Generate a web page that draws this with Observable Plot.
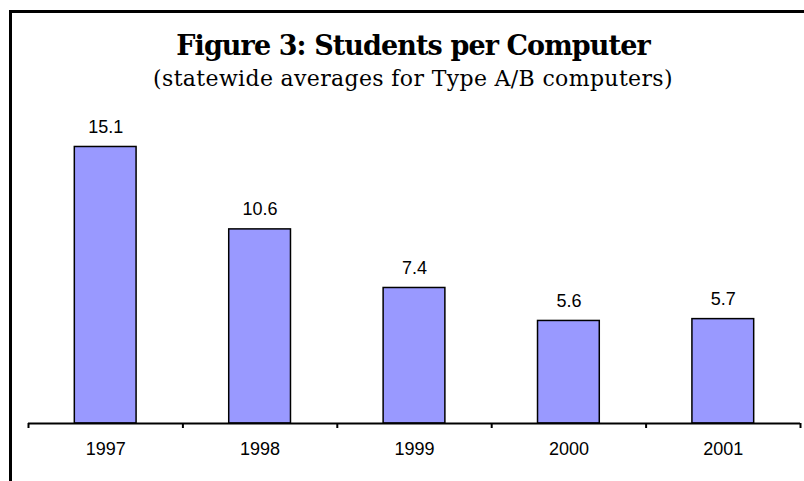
<!DOCTYPE html>
<html>
<head>
<meta charset="utf-8">
<script src="https://cdn.jsdelivr.net/npm/d3@7"></script>
<script src="https://cdn.jsdelivr.net/npm/@observablehq/plot@0.6"></script>
<style>
  html, body { margin: 0; padding: 0; background: #fff; }
  #chart { position: relative; width: 804px; height: 481px; overflow: hidden; }
  #frame {
    position: absolute; left: 9px; top: 10px; width: 820px; height: 500px;
    border-top: 3px solid #000; border-left: 3px solid #000; pointer-events: none;
  }
  #head {
    box-sizing: border-box; width: 804px; height: 100px;
    padding: 30px 0 0 22px; text-align: center; color: #000;
  }
  #title {
    font-family: "DejaVu Serif", serif; font-weight: bold;
    font-size: 27px; line-height: 31px; letter-spacing: -0.9px;
  }
  #subtitle {
    font-family: "DejaVu Serif", serif; font-weight: normal;
    font-size: 22px; line-height: 31px; margin-top: 2px; letter-spacing: 0.35px;
  }
  #plot svg { display: block; }
</style>
</head>
<body>
<div id="chart">
  <div id="head">
    <div id="title">Figure 3: Students per Computer</div>
    <div id="subtitle">(statewide averages for Type A/B computers)</div>
  </div>
  <div id="plot"></div>
  <div id="frame"></div>
</div>
<script>
// Statewide students per computer, by school year
const years = [1997, 1998, 1999, 2000, 2001];
const ratios = [15.1, 10.6, 7.4, 5.6, 5.7];
// Category boundaries where the axis tick marks sit
const yearEdges = [1996.5, 1997.5, 1998.5, 1999.5, 2000.5, 2001.5];

const data = years.map((year, i) => ({year, ratio: ratios[i]}));
const halfBar = 0.2;

const chart = Plot.plot({
  width: 804,
  height: 381,
  marginLeft: 28,
  marginRight: 4,
  marginTop: 30,
  marginBottom: 58,
  x: {domain: [yearEdges[0], yearEdges[yearEdges.length - 1]], label: null},
  y: {domain: [0, 16], axis: null},
  style: {
    fontFamily: "'Liberation Sans', Arial, sans-serif",
    color: "#000",
    background: "transparent",
    overflow: "visible"
  },
  marks: [
    Plot.rect(data, {
      x1: d => d.year - halfBar,
      x2: d => d.year + halfBar,
      y1: 0,
      y2: "ratio",
      fill: "#9999ff",
      stroke: "#000",
      strokeWidth: 1.5
    }),
    Plot.ruleY([0], {stroke: "#000", strokeWidth: 2}),
    Plot.axisX({ticks: yearEdges, tickSize: 5, tickFormat: () => "", strokeWidth: 2, label: null}),
    Plot.axisX({
      ticks: years,
      tickSize: 0,
      tickPadding: 19,
      tickFormat: d => String(d),
      fontSize: 18,
      fill: "#000",
      label: null
    }),
    Plot.text(data, {
      x: "year",
      y: "ratio",
      text: d => d.ratio.toFixed(1),
      dy: -20,
      fontSize: 18,
      fill: "#000"
    })
  ]
});

document.getElementById("plot").append(chart);
</script>
</body>
</html>
